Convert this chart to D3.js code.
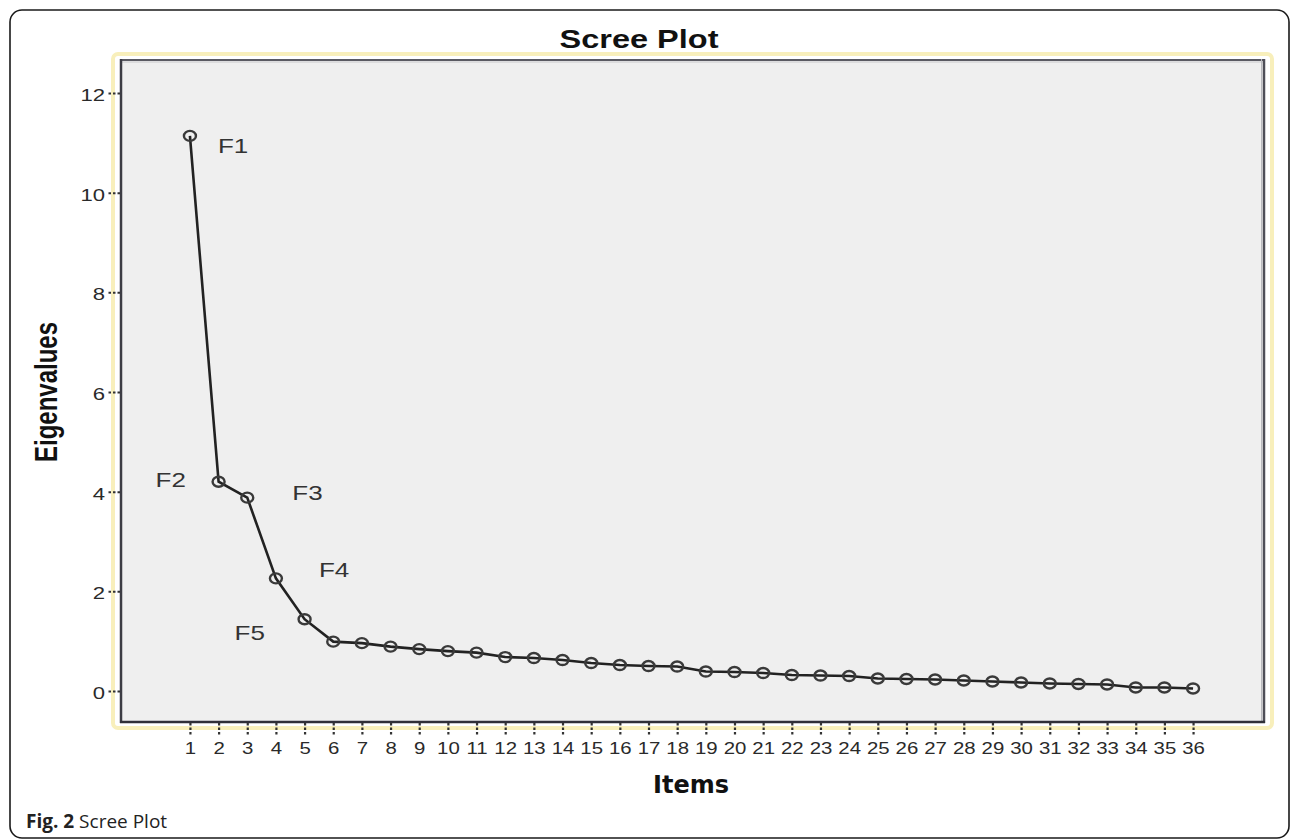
<!DOCTYPE html>
<html>
<head>
<meta charset="utf-8">
<script src="https://cdn.jsdelivr.net/npm/d3@7"></script>
<style>
  html, body { margin: 0; padding: 0; background: #fff; }
  svg { display: block; }
</style>
</head>
<body>
<svg id="chart" width="1290" height="839"></svg>
<script>
// ---- data ----
const items = d3.range(1, 37);
const eigenvalues = [11.14, 4.20, 3.88, 2.26, 1.44, 0.99, 0.96, 0.89, 0.84, 0.80,
                     0.77, 0.68, 0.66, 0.62, 0.56, 0.52, 0.50, 0.49, 0.39, 0.38,
                     0.36, 0.32, 0.31, 0.30, 0.25, 0.24, 0.23, 0.21, 0.19, 0.17,
                     0.15, 0.14, 0.13, 0.07, 0.07, 0.05];
const yTicks = [0, 2, 4, 6, 8, 10, 12];
const xTicks = items;
const factorLabels = ["F1", "F2", "F3", "F4", "F5"];
const titleText = "Scree Plot";
const xTitle = "Items";
const yTitle = "Eigenvalues";

// ---- layout ----
const svg = d3.select("#chart");
const plot = { left: 120, top: 59, right: 1265, bottom: 723 };
const SX = 1.3; // horizontal stretch of the original image

const x = d3.scaleLinear().domain([-1.44, 38.51]).range([plot.left, plot.right]);
const y = d3.scaleLinear().domain([-0.643, 12.683]).range([plot.bottom, plot.top]);

// outer rounded frame
svg.append("rect").attr("x", 10).attr("y", 10).attr("width", 1279).attr("height", 828)
  .attr("rx", 12).attr("fill", "#fff").attr("stroke", "#1a1a1a").attr("stroke-width", 1.6);

// yellow chart frame
svg.append("rect").attr("x", 113).attr("y", 54).attr("width", 1159).attr("height", 674)
  .attr("rx", 5).attr("fill", "none").attr("stroke", "#f8efbb").attr("stroke-width", 4);

// plot background
svg.append("rect").attr("x", plot.left).attr("y", plot.top)
  .attr("width", plot.right - plot.left).attr("height", plot.bottom - plot.top)
  .attr("fill", "#efefef");

// borders
svg.append("line").attr("x1", plot.left).attr("x2", plot.right).attr("y1", plot.top + 1).attr("y2", plot.top + 1)
  .attr("stroke", "#5a5a62").attr("stroke-width", 2);
svg.append("line").attr("x1", plot.left).attr("x2", plot.right).attr("y1", plot.top + 3).attr("y2", plot.top + 3)
  .attr("stroke", "#c9c9cc").attr("stroke-width", 1);
svg.append("line").attr("x1", plot.right - 1).attr("x2", plot.right - 1).attr("y1", plot.top).attr("y2", plot.bottom)
  .attr("stroke", "#4e4e58").attr("stroke-width", 2.5);
svg.append("line").attr("x1", plot.right - 3.5).attr("x2", plot.right - 3.5).attr("y1", plot.top).attr("y2", plot.bottom)
  .attr("stroke", "#b9b9bf").attr("stroke-width", 1);
svg.append("line").attr("x1", plot.left + 1).attr("x2", plot.left + 1).attr("y1", plot.top).attr("y2", plot.bottom)
  .attr("stroke", "#3c3c44").attr("stroke-width", 2.5);
svg.append("line").attr("x1", plot.left).attr("x2", plot.right).attr("y1", plot.bottom - 1).attr("y2", plot.bottom - 1)
  .attr("stroke", "#2f2f38").attr("stroke-width", 2.5);

// axes
const tickFont = "'Liberation Sans', Arial, sans-serif";
const yAxis = d3.axisLeft(y).tickValues(yTicks).tickSize(12).tickPadding(3).tickFormat(d3.format("d"));
const gy = svg.append("g").attr("transform", `translate(${plot.left},0)`).call(yAxis);
gy.select(".domain").remove();
gy.selectAll(".tick line").attr("stroke", "#333").attr("stroke-width", 2).attr("stroke-dasharray", "2.5,2");
gy.selectAll(".tick text")
  .attr("font-family", tickFont).attr("font-size", 17).attr("fill", "#2a2a2a")
  .attr("x", -15 / SX).attr("dy", "0.45em")
  .attr("transform", `scale(${SX},1)`);

const xAxis = d3.axisBottom(x).tickValues(xTicks).tickSize(12).tickPadding(7).tickFormat(d3.format("d"));
const gx = svg.append("g").attr("transform", `translate(0,${plot.bottom})`).call(xAxis);
gx.select(".domain").remove();
gx.selectAll(".tick line").attr("stroke", "#333").attr("stroke-width", 2.2).attr("stroke-dasharray", "2.5,2");
gx.selectAll(".tick text")
  .attr("font-family", tickFont).attr("font-size", 17).attr("fill", "#2a2a2a")
  .attr("transform", `scale(1.2,1)`);

// line + markers
const pts = items.map((d, i) => ({ item: d, value: eigenvalues[i] }));
const line = d3.line().x(d => x(d.item)).y(d => y(d.value));
svg.append("path").datum(pts).attr("d", line)
  .attr("fill", "none").attr("stroke", "#222").attr("stroke-width", 2.6);
svg.append("g").selectAll("ellipse").data(pts).join("ellipse")
  .attr("cx", d => x(d.item)).attr("cy", d => y(d.value))
  .attr("rx", 6).attr("ry", 5)
  .attr("fill", "none").attr("stroke", "#3a3a3a").attr("stroke-width", 2.4);

// factor labels (offsets relative to their points)
const labelOffsets = [[28, 17], [-63, 5], [45, 2], [43, -1], [-70, 21]];
factorLabels.forEach((lab, i) => {
  const p = pts[i];
  svg.append("text")
    .attr("transform", `translate(${x(p.item) + labelOffsets[i][0]},${y(p.value) + labelOffsets[i][1]}) scale(${SX},1)`)
    .attr("font-family", tickFont).attr("font-size", 20).attr("fill", "#333")
    .text(lab);
});

// title
svg.append("text")
  .attr("transform", `translate(639,48) scale(${SX},1)`)
  .attr("text-anchor", "middle")
  .attr("font-family", tickFont).attr("font-weight", "bold").attr("font-size", 25).attr("fill", "#111")
  .text(titleText);

// axis titles
svg.append("text")
  .attr("transform", `translate(691,793)`)
  .attr("text-anchor", "middle")
  .attr("font-family", "'DejaVu Sans', sans-serif").attr("font-weight", "bold").attr("font-size", 24).attr("fill", "#111")
  .text(xTitle);

svg.append("text")
  .attr("transform", `translate(57,392) scale(${SX},1) rotate(-90)`)
  .attr("text-anchor", "middle")
  .attr("font-family", tickFont).attr("font-weight", "bold").attr("font-size", 24).attr("fill", "#111")
  .text(yTitle);

// caption
const cap = svg.append("text").attr("x", 26).attr("y", 828)
  .attr("font-family", "'Open Sans', sans-serif").attr("font-size", 19).attr("fill", "#222");
cap.append("tspan").attr("font-weight", "bold").text("Fig. 2");
cap.append("tspan").text(" Scree Plot");
</script>
</body>
</html>
